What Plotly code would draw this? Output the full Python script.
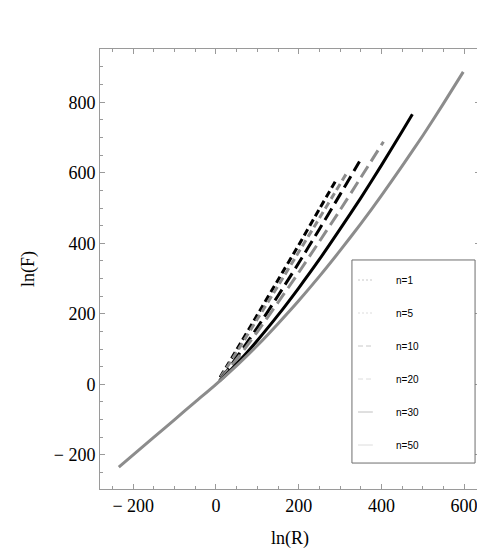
import plotly.graph_objects as go

# curve data (ln(R), ln(F))
x_n1 = [10, 25, 50, 100, 150, 200, 250, 291]
y_n1 = [20, 49, 98, 197, 296, 395, 497, 580]

x_n5 = [12, 25, 50, 100, 150, 200, 250, 282, 315]
y_n5 = [21, 45, 91, 185, 279, 375, 471, 533, 597]

x_n10 = [12, 25, 50, 75, 100, 150, 200, 250, 300, 347]
y_n10 = [16, 36, 76, 118, 161, 251, 344, 440, 538, 632]

x_n20 = [10, 25, 50, 75, 100, 150, 200, 250, 300, 350, 405]
y_n20 = [13, 34, 71, 109, 149, 232, 317, 405, 494, 586, 688]

x_n30 = [8, 25, 50, 75, 100, 150, 200, 250, 300, 350, 400, 450, 475]
y_n30 = [9, 28, 58, 90, 124, 196, 273, 354, 440, 528, 621, 717, 766]

x_n50 = [-235, -150, -100, -50, 0, 50, 100, 150, 200, 250, 300, 350, 400, 450, 500, 550, 598]
y_n50 = [-235, -150, -100, -50, 0, 53, 110, 172, 237, 306, 379, 455, 535, 619, 705, 796, 886]

labels = ['n=1', 'n=5', 'n=10', 'n=20', 'n=30', 'n=50']
xs = [x_n1, x_n5, x_n10, x_n20, x_n30, x_n50]
ys = [y_n1, y_n5, y_n10, y_n20, y_n30, y_n50]

x_ticks = [-200, 0, 200, 400, 600]
x_ticktext = ['\u2212 200', '0', '200', '400', '600']
y_ticks = [-200, 0, 200, 400, 600, 800]
y_ticktext = ['\u2212 200', '0', '200', '400', '600', '800']

colors = ['black', '#8c8c8c', 'black', '#8c8c8c', 'black', '#8c8c8c']
dashes = ['7px,4px', '7px,4px', '13px,6px', '13px,6px', 'solid', 'solid']
legend_colors = ['#c8c8c8', '#dcdcdc', '#c8c8c8', '#dcdcdc', '#c0c0c0', '#dcdcdc']
legend_dashes = ['2px,2px', '2px,2px', '5px,3px', '5px,3px', 'solid', 'solid']

fig = go.Figure()
for i in range(len(labels)):
    fig.add_trace(go.Scatter(
        x=xs[i], y=ys[i], mode='lines', name=labels[i],
        line=dict(color=colors[i], width=3, dash=dashes[i], shape='spline', smoothing=0.6),
        showlegend=False
    ))

# legend drawn by hand to match the boxed legend of the original
box_x0, box_x1 = 0.663, 0.987
box_y0, box_y1 = 0.059, 0.5205
fig.add_shape(type='rect', xref='paper', yref='paper',
              x0=box_x0, x1=box_x1, y0=box_y0, y1=box_y1,
              line=dict(color='#6e6e6e', width=1), fillcolor='white', layer='above')
for i, lab in enumerate(labels):
    yy = box_y1 - 0.0455 - i * 0.075
    fig.add_shape(type='line', xref='paper', yref='paper',
                  x0=box_x0 + 0.016, x1=box_x0 + 0.055, y0=yy, y1=yy,
                  line=dict(color=legend_colors[i], width=1, dash=legend_dashes[i]),
                  layer='above')
    fig.add_annotation(x=box_x0 + 0.111, y=yy, xref='paper', yref='paper',
                       text=lab, showarrow=False, xanchor='left', yanchor='middle',
                       font=dict(family='Liberation Sans, Arial', size=10, color='black'))

serif = 'Liberation Serif, Times New Roman'
axis_style = dict(
    showline=True, linecolor='#9a9a9a', linewidth=1, mirror='allticks',
    ticks='inside', ticklen=5, tickcolor='#9a9a9a', tickwidth=1,
    showgrid=False, zeroline=False, automargin=False, tickmode='array',
    minor=dict(tickmode='linear', tick0=0, dtick=50, ticks='inside', ticklen=3,
               tickcolor='#9a9a9a', showgrid=False),
    tickfont=dict(family=serif, size=18, color='black'),
)

# page body has an 8px margin, so the figure is 8px smaller than the window
fig.update_layout(
    width=477, height=546,
    margin=dict(l=92, r=5, t=41, b=65),
    plot_bgcolor='white', paper_bgcolor='white',
    xaxis=dict(axis_style, range=[-280.5, 638.5], tickvals=x_ticks, ticktext=x_ticktext,
               title=dict(text='ln(R)', standoff=16,
                          font=dict(family=serif, size=18, color='black'))),
    yaxis=dict(axis_style, range=[-297, 951], tickvals=y_ticks, ticktext=y_ticktext,
               title=dict(text='ln(F)', standoff=14,
                          font=dict(family=serif, size=18, color='black'))),
)

fig.write_html("out.html")
